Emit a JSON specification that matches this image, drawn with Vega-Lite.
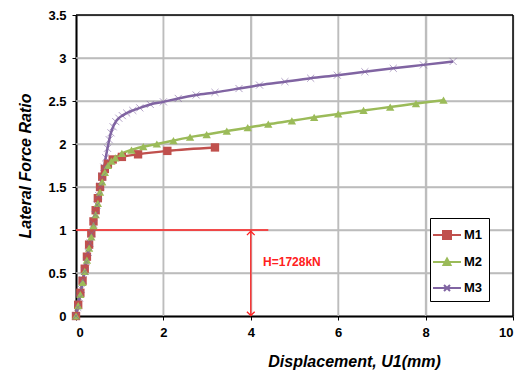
{
  "$schema": "https://vega.github.io/schema/vega-lite/v6.json",
  "width": 437,
  "height": 301,
  "autosize": {"type": "none"},
  "padding": {"left": 76, "top": 15, "right": 12, "bottom": 64},
  "config": {
    "font": "Liberation Sans",
    "axis": {
      "domainColor": "black", "domainWidth": 2,
      "tickColor": "black", "labelFont": "Liberation Sans", "labelFontWeight": "bold",
      "labelFontSize": 13, "labelColor": "black", "titleFont": "Liberation Sans",
      "titleFontSize": 16, "titleFontWeight": "bold", "titleFontStyle": "italic", "titleColor": "black"
    }
  },
  "datasets": {
    "gridx": [{"v": 2}, {"v": 4}, {"v": 6}, {"v": 8}],
    "gridy": [{"v": 0.5}, {"v": 1}, {"v": 1.5}, {"v": 2}, {"v": 2.5}, {"v": 3}],
    "curves": [
      {"series": "M1", "x": 0, "y": 0},
      {"series": "M1", "x": 0.05, "y": 0.13},
      {"series": "M1", "x": 0.1, "y": 0.27},
      {"series": "M1", "x": 0.15, "y": 0.41},
      {"series": "M1", "x": 0.2, "y": 0.55},
      {"series": "M1", "x": 0.25, "y": 0.69},
      {"series": "M1", "x": 0.3, "y": 0.83},
      {"series": "M1", "x": 0.35, "y": 0.96},
      {"series": "M1", "x": 0.4, "y": 1.1},
      {"series": "M1", "x": 0.45, "y": 1.23},
      {"series": "M1", "x": 0.5, "y": 1.37},
      {"series": "M1", "x": 0.55, "y": 1.5},
      {"series": "M1", "x": 0.6, "y": 1.62},
      {"series": "M1", "x": 0.66, "y": 1.71},
      {"series": "M1", "x": 0.73, "y": 1.77},
      {"series": "M1", "x": 0.84, "y": 1.82},
      {"series": "M1", "x": 1.05, "y": 1.85},
      {"series": "M1", "x": 1.42, "y": 1.88},
      {"series": "M1", "x": 2.09, "y": 1.92},
      {"series": "M1", "x": 3.18, "y": 1.96},
      {"series": "M2", "x": 0, "y": 0},
      {"series": "M2", "x": 0.05, "y": 0.12},
      {"series": "M2", "x": 0.1, "y": 0.25},
      {"series": "M2", "x": 0.15, "y": 0.39},
      {"series": "M2", "x": 0.2, "y": 0.52},
      {"series": "M2", "x": 0.25, "y": 0.65},
      {"series": "M2", "x": 0.3, "y": 0.79},
      {"series": "M2", "x": 0.35, "y": 0.92},
      {"series": "M2", "x": 0.4, "y": 1.05},
      {"series": "M2", "x": 0.45, "y": 1.18},
      {"series": "M2", "x": 0.5, "y": 1.31},
      {"series": "M2", "x": 0.55, "y": 1.44},
      {"series": "M2", "x": 0.6, "y": 1.56},
      {"series": "M2", "x": 0.66, "y": 1.67},
      {"series": "M2", "x": 0.73, "y": 1.75},
      {"series": "M2", "x": 0.81, "y": 1.8},
      {"series": "M2", "x": 0.9, "y": 1.84},
      {"series": "M2", "x": 1.05, "y": 1.89},
      {"series": "M2", "x": 1.27, "y": 1.93},
      {"series": "M2", "x": 1.54, "y": 1.97},
      {"series": "M2", "x": 1.85, "y": 2.0},
      {"series": "M2", "x": 2.23, "y": 2.04},
      {"series": "M2", "x": 2.61, "y": 2.08},
      {"series": "M2", "x": 2.99, "y": 2.11},
      {"series": "M2", "x": 3.45, "y": 2.15},
      {"series": "M2", "x": 3.93, "y": 2.19},
      {"series": "M2", "x": 4.4, "y": 2.23},
      {"series": "M2", "x": 4.94, "y": 2.27},
      {"series": "M2", "x": 5.45, "y": 2.31},
      {"series": "M2", "x": 6.0, "y": 2.35},
      {"series": "M2", "x": 6.58, "y": 2.39},
      {"series": "M2", "x": 7.19, "y": 2.43},
      {"series": "M2", "x": 7.78, "y": 2.47},
      {"series": "M2", "x": 8.41, "y": 2.51},
      {"series": "M3", "x": 0, "y": 0},
      {"series": "M3", "x": 0.04, "y": 0.1},
      {"series": "M3", "x": 0.08, "y": 0.21},
      {"series": "M3", "x": 0.12, "y": 0.31},
      {"series": "M3", "x": 0.16, "y": 0.42},
      {"series": "M3", "x": 0.2, "y": 0.52},
      {"series": "M3", "x": 0.24, "y": 0.63},
      {"series": "M3", "x": 0.28, "y": 0.74},
      {"series": "M3", "x": 0.32, "y": 0.85},
      {"series": "M3", "x": 0.36, "y": 0.96},
      {"series": "M3", "x": 0.4, "y": 1.07},
      {"series": "M3", "x": 0.44, "y": 1.18},
      {"series": "M3", "x": 0.48, "y": 1.29},
      {"series": "M3", "x": 0.52, "y": 1.4},
      {"series": "M3", "x": 0.56, "y": 1.51},
      {"series": "M3", "x": 0.6, "y": 1.62},
      {"series": "M3", "x": 0.64, "y": 1.73},
      {"series": "M3", "x": 0.68, "y": 1.84},
      {"series": "M3", "x": 0.72, "y": 1.95},
      {"series": "M3", "x": 0.76, "y": 2.05},
      {"series": "M3", "x": 0.8, "y": 2.13},
      {"series": "M3", "x": 0.85, "y": 2.2},
      {"series": "M3", "x": 0.91, "y": 2.26},
      {"series": "M3", "x": 0.98, "y": 2.3},
      {"series": "M3", "x": 1.06, "y": 2.33},
      {"series": "M3", "x": 1.16, "y": 2.36},
      {"series": "M3", "x": 1.3, "y": 2.39},
      {"series": "M3", "x": 1.46, "y": 2.42},
      {"series": "M3", "x": 1.7, "y": 2.46},
      {"series": "M3", "x": 2.0, "y": 2.49},
      {"series": "M3", "x": 2.34, "y": 2.53},
      {"series": "M3", "x": 2.75, "y": 2.57},
      {"series": "M3", "x": 3.18, "y": 2.6},
      {"series": "M3", "x": 3.73, "y": 2.645},
      {"series": "M3", "x": 4.2, "y": 2.685},
      {"series": "M3", "x": 4.78, "y": 2.725},
      {"series": "M3", "x": 5.37, "y": 2.765},
      {"series": "M3", "x": 5.98, "y": 2.8},
      {"series": "M3", "x": 6.61, "y": 2.84},
      {"series": "M3", "x": 7.26, "y": 2.88},
      {"series": "M3", "x": 7.95, "y": 2.92},
      {"series": "M3", "x": 8.63, "y": 2.96}
    ]
  },
  "layer": [
    {
      "data": {"name": "gridx"},
      "mark": {"type": "rule", "color": "#bdbdbd", "strokeWidth": 1.5},
      "encoding": {
        "x": {"field": "v", "type": "quantitative", "title": "Displacement, U1(mm)",
          "scale": {"domain": [0, 10], "nice": false},
          "axis": {"values": [0, 2, 4, 6, 8, 10], "format": "~r", "tickSize": 4, "labelPadding": 6, "titleX": 278, "titlePadding": 14,
            "grid": true, "gridColor": "#bdbdbd", "gridWidth": 1.5}}
      }
    },
    {
      "data": {"name": "gridy"},
      "mark": {"type": "rule", "color": "#bdbdbd", "strokeWidth": 1.5},
      "encoding": {
        "y": {"field": "v", "type": "quantitative", "title": "Lateral Force Ratio",
          "scale": {"domain": [0, 3.5], "nice": false},
          "axis": {"values": [0, 0.5, 1, 1.5, 2, 2.5, 3, 3.5], "format": "~r", "tickSize": 4, "labelPadding": 6, "titleX": -51, "titleBaseline": "middle",
            "grid": true, "gridColor": "#bdbdbd", "gridWidth": 1.5}}
      }
    },
    {
      "data": {"values": [{"v": 10}]},
      "mark": {"type": "rule", "color": "black", "strokeWidth": 1.5},
      "encoding": {"x": {"field": "v", "type": "quantitative"}}
    },
    {
      "data": {"values": [{"v": 3.5}]},
      "mark": {"type": "rule", "color": "black", "strokeWidth": 1.5},
      "encoding": {"y": {"field": "v", "type": "quantitative"}}
    },
    {
      "data": {"name": "curves"},
      "mark": {"type": "line", "strokeWidth": 2.5, "interpolate": "monotone"},
      "encoding": {
        "x": {"field": "x", "type": "quantitative"},
        "y": {"field": "y", "type": "quantitative"},
        "color": {"field": "series", "type": "nominal",
          "scale": {"domain": ["M1", "M2", "M3"], "range": ["#C0504D", "#9BBB59", "#8064A2"]},
          "legend": {
            "orient": "none", "legendX": 354, "legendY": 203, "title": null,
            "padding": 6, "strokeColor": "black", "fillColor": "white", "rowPadding": 8,
            "labelFontSize": 13, "labelFontWeight": "bold", "labelColor": "black", "labelFont": "Liberation Sans",
            "symbolSize": 400, "symbolStrokeWidth": 2, "labelOffset": 6, "symbolType": "stroke",
            "encode": {
              "symbols": {"update": {
                "shape": {"signal": "datum.value == 'M1' ? 'M-1.4,0H1.4M-0.4,-0.4H0.4V0.4H-0.4Z' : datum.value == 'M2' ? 'M-1.4,0H1.4M0,-0.35L0.35,0.3H-0.35Z' : 'M-1.4,0H1.4M-0.3,-0.3L0.3,0.3M-0.3,0.3L0.3,-0.3'"},
                "stroke": {"signal": "scale('color', datum.value)"},
                "fill": {"signal": "scale('color', datum.value)"},
                "strokeWidth": {"value": 2},
                "opacity": {"value": 1}
              }}
            }
          }}
      }
    },
    {
      "data": {"values": [{"x": 0, "x2": 4.4, "y": 1}]},
      "mark": {"type": "rule", "color": "#ff2020", "strokeWidth": 1.3},
      "encoding": {
        "x": {"field": "x", "type": "quantitative"},
        "x2": {"field": "x2"},
        "y": {"field": "y", "type": "quantitative"}
      }
    },
    {
      "data": {"values": [{"x": 4, "y": 0.01, "y2": 0.98}]},
      "mark": {"type": "rule", "color": "#ff2020", "strokeWidth": 1.3},
      "encoding": {
        "x": {"field": "x", "type": "quantitative"},
        "y": {"field": "y", "type": "quantitative"},
        "y2": {"field": "y2"}
      }
    },
    {
      "data": {"values": [{"x": 4, "y": 0.985}]},
      "mark": {"type": "point", "filled": false, "color": "#ff2020", "strokeWidth": 1.3, "size": 60, "opacity": 1, "shape": "M-1,1L0,0L1,1"},
      "encoding": {
        "x": {"field": "x", "type": "quantitative"},
        "y": {"field": "y", "type": "quantitative"}
      }
    },
    {
      "data": {"values": [{"x": 4, "y": 0.005}]},
      "mark": {"type": "point", "filled": false, "color": "#ff2020", "strokeWidth": 1.3, "size": 60, "opacity": 1, "shape": "M-1,-1L0,0L1,-1"},
      "encoding": {
        "x": {"field": "x", "type": "quantitative"},
        "y": {"field": "y", "type": "quantitative"}
      }
    },
    {
      "data": {"values": [{"x": 4.28, "y": 0.63, "label": "H=1728kN"}]},
      "mark": {"type": "text", "align": "left", "baseline": "middle", "color": "#ff2020", "fontWeight": "bold", "fontSize": 12, "font": "Liberation Sans"},
      "encoding": {
        "x": {"field": "x", "type": "quantitative"},
        "y": {"field": "y", "type": "quantitative"},
        "text": {"field": "label"}
      }
    },
    {
      "data": {"name": "curves"},
      "transform": [{"filter": "datum.series != 'M3'"}],
      "mark": {"type": "point", "filled": true, "opacity": 1},
      "encoding": {
        "x": {"field": "x", "type": "quantitative"},
        "y": {"field": "y", "type": "quantitative"},
        "color": {"field": "series", "type": "nominal"},
        "shape": {"field": "series", "type": "nominal", "legend": null,
          "scale": {"domain": ["M1", "M2"], "range": ["square", "triangle-up"]}},
        "size": {"value": 70}
      }
    },
    {
      "data": {"name": "curves"},
      "transform": [{"filter": "datum.series == 'M3'"}],
      "mark": {"type": "point", "filled": false, "opacity": 0.6, "strokeWidth": 1, "size": 50,
        "shape": "M-1,-1L1,1M-1,1L1,-1"},
      "encoding": {
        "x": {"field": "x", "type": "quantitative"},
        "y": {"field": "y", "type": "quantitative"},
        "color": {"field": "series", "type": "nominal"}
      }
    }
  ]
}
